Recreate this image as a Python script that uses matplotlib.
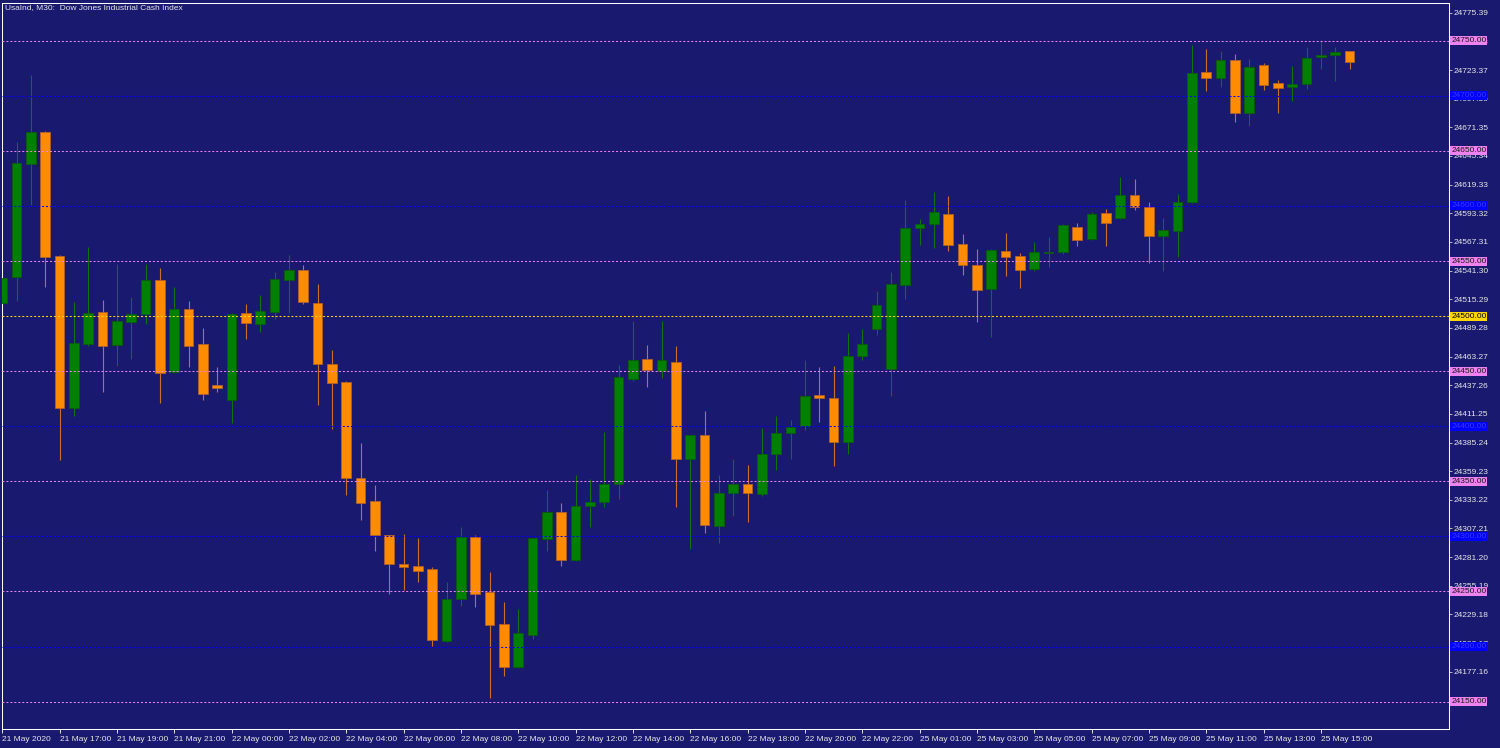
import matplotlib.pyplot as plt
import matplotlib.transforms as mtransforms
import numpy as np

# chart data (M30 bars)
title = "UsaInd, M30:  Dow Jones Industrial Cash Index"

opens = [24512.1, 24535.2, 24638.5, 24667.3, 24554.5, 24417.0, 24474.8, 24504.0, 24473.6, 24494.2,
         24501.8, 24532.7, 24448.8, 24506.4, 24474.5, 24437.3, 24423.6, 24502.4, 24492.7, 24503.9,
         24532.7, 24542.1, 24512.1, 24456.1, 24440.3, 24353.3, 24332.1, 24301.5, 24275.2, 24272.7,
         24270.3, 24205.5, 24243.6, 24299.7, 24249.7, 24220.3, 24181.5, 24210.6, 24297.3, 24321.8,
         24278.8, 24327.9, 24330.9, 24347.6, 24443.0, 24461.2, 24450.3, 24458.5, 24370.6, 24391.8,
         24309.7, 24339.7, 24347.6, 24338.2, 24375.2, 24394.2, 24400.3, 24428.5, 24426.0, 24385.5,
         24464.2, 24488.7, 24452.1, 24528.3, 24579.7, 24583.9, 24592.7, 24565.8, 24546.4, 24524.7,
         24559.1, 24554.6, 24543.1, 24557.3, 24558.5, 24581.2, 24570.0, 24593.6, 24588.8, 24610.0,
         24599.4, 24572.4, 24577.6, 24603.6, 24721.9, 24716.4, 24732.5, 24684.1, 24727.9, 24711.3,
         24707.7, 24711.0, 24735.5, 24737.0, 24740.6]
highs = [24545.0, 24657.9, 24719.1, 24668.2, 24555.0, 24512.4, 24562.4, 24514.5, 24547.3, 24517.0,
         24547.3, 24543.6, 24526.4, 24514.0, 24489.1, 24453.6, 24502.5, 24510.6, 24519.1, 24539.7,
         24555.5, 24546.4, 24529.1, 24469.1, 24441.2, 24385.2, 24346.7, 24301.5, 24301.8, 24298.8,
         24271.8, 24258.5, 24308.5, 24300.9, 24267.3, 24240.3, 24234.5, 24299.0, 24342.1, 24330.0,
         24355.8, 24351.8, 24395.2, 24455.5, 24495.8, 24473.9, 24495.2, 24472.4, 24392.0, 24413.9,
         24355.8, 24370.0, 24364.8, 24398.5, 24409.1, 24405.5, 24460.2, 24453.9, 24454.8, 24484.4,
         24488.4, 24522.8, 24540.4, 24605.4, 24588.5, 24612.7, 24609.0, 24574.6, 24560.9, 24560.9,
         24575.5, 24557.6, 24567.3, 24571.5, 24583.6, 24584.8, 24594.2, 24597.2, 24626.6, 24624.5,
         24603.3, 24589.4, 24610.9, 24746.1, 24742.4, 24740.6, 24737.6, 24733.4, 24729.4, 24714.3,
         24727.0, 24744.6, 24750.6, 24744.0, 24740.6]
lows = [24505.0, 24513.9, 24600.9, 24526.1, 24369.1, 24409.1, 24473.0, 24431.5, 24454.5, 24461.0,
        24492.7, 24421.2, 24448.0, 24454.0, 24424.2, 24430.9, 24403.0, 24479.4, 24485.5, 24497.6,
        24502.4, 24510.6, 24419.4, 24397.6, 24337.9, 24315.2, 24286.7, 24247.9, 24250.9, 24258.2,
        24200.3, 24204.0, 24236.7, 24235.8, 24153.3, 24173.6, 24180.9, 24207.0, 24287.0, 24273.3,
        24277.6, 24308.8, 24327.0, 24334.2, 24441.5, 24435.2, 24443.9, 24327.0, 24288.8, 24303.3,
        24294.2, 24318.8, 24313.3, 24337.0, 24360.3, 24370.0, 24396.7, 24404.3, 24364.3, 24374.9,
        24460.2, 24482.9, 24427.0, 24515.9, 24564.3, 24561.9, 24559.1, 24537.4, 24495.0, 24480.8,
        24536.8, 24525.3, 24540.7, 24544.9, 24556.4, 24564.0, 24569.4, 24564.0, 24588.5, 24596.3,
        24547.9, 24541.0, 24554.0, 24603.0, 24704.3, 24708.3, 24676.5, 24672.6, 24705.5, 24684.7,
        24695.3, 24705.8, 24724.0, 24713.4, 24724.6]
closes = [24534.2, 24638.8, 24666.7, 24553.9, 24417.0, 24475.5, 24502.4, 24473.0, 24495.5, 24501.5,
          24532.7, 24447.9, 24506.4, 24472.4, 24429.4, 24434.8, 24501.8, 24493.3, 24504.5, 24533.3,
          24542.1, 24513.0, 24456.1, 24439.7, 24352.7, 24330.6, 24301.2, 24274.5, 24272.1, 24268.5,
          24206.1, 24243.6, 24299.4, 24247.6, 24220.0, 24181.5, 24212.7, 24298.2, 24321.8, 24278.8,
          24327.6, 24331.5, 24347.6, 24444.8, 24460.3, 24451.2, 24460.3, 24370.0, 24391.8, 24310.6,
          24339.4, 24347.6, 24339.1, 24374.8, 24393.9, 24399.4, 24427.6, 24425.4, 24385.5, 24464.2,
          24474.7, 24509.8, 24529.2, 24580.3, 24583.6, 24594.2, 24564.9, 24546.4, 24523.7, 24560.0,
          24554.0, 24541.6, 24558.2, 24558.2, 24582.7, 24569.1, 24592.7, 24584.8, 24610.0, 24599.4,
          24573.0, 24578.2, 24603.3, 24721.0, 24716.4, 24732.5, 24684.7, 24726.1, 24710.1, 24707.4,
          24710.7, 24734.0, 24737.3, 24739.4, 24731.0]

# one time label every 4 bars
time_labels = ["21 May 2020", "21 May 17:00", "21 May 19:00", "21 May 21:00", "22 May 00:00",
               "22 May 02:00", "22 May 04:00", "22 May 06:00", "22 May 08:00", "22 May 10:00",
               "22 May 12:00", "22 May 14:00", "22 May 16:00", "22 May 18:00", "22 May 20:00",
               "22 May 22:00", "25 May 01:00", "25 May 03:00", "25 May 05:00", "25 May 07:00",
               "25 May 09:00", "25 May 11:00", "25 May 13:00", "25 May 15:00"]

price_ticks = [24177.16, 24203.17, 24229.18, 24255.19, 24281.20, 24307.21, 24333.22, 24359.23,
               24385.24, 24411.25, 24437.26, 24463.27, 24489.28, 24515.29, 24541.30, 24567.31,
               24593.32, 24619.33, 24645.34, 24671.35, 24697.36, 24723.37, 24749.38, 24775.39]

# horizontal levels
levels = [24750, 24700, 24650, 24600, 24550, 24500, 24450, 24400, 24350, 24300, 24250, 24200, 24150]
level_kind = ["pink", "blue", "pink", "blue", "pink", "gold", "pink", "blue", "pink", "blue",
              "pink", "blue", "pink"]

######################################################################

bg = '#191970'
line_col = {'pink': '#ee82ee', 'blue': '#0000ff', 'gold': '#ffd700'}
text_col = {'pink': '#1a1a1a', 'blue': '#3a3aff', 'gold': '#000000'}

plt.rcParams['font.family'] = ['Liberation Sans', 'DejaVu Sans']

o = np.asarray(opens)
h = np.asarray(highs)
l = np.asarray(lows)
c = np.asarray(closes)
x = np.arange(len(o))
up = c >= o

fig = plt.figure(figsize=(15, 7.48), dpi=100, facecolor=bg)
ax = fig.add_axes([1.7/1500, 18.7/748, 1446.8/1500, 726.3/748])
ax.set_facecolor(bg)

# wicks
ax.vlines(x[up], l[up], h[up], color='#0c740c', lw=0.8, zorder=2)
ax.vlines(x[~up], l[~up], h[~up], color='#c8702a', lw=0.8, zorder=2)

# bodies
body_lo = np.minimum(o, c)
body_h = np.maximum(np.abs(c - o), 1.0)
ax.bar(x[up], body_h[up], bottom=body_lo[up], width=0.68, color='#008000',
       edgecolor='#0a5c0a', lw=0.6, zorder=3)
ax.bar(x[~up], body_h[~up], bottom=body_lo[~up], width=0.68, color='#ff8c00',
       edgecolor='#b0602a', lw=0.6, zorder=3)

# levels with price boxes
box_tr = mtransforms.blended_transform_factory(ax.transAxes, ax.transData)
for lev, kind in zip(levels, level_kind):
    ax.axhline(lev, color=line_col[kind], lw=0.75, dashes=(1.9, 1.9), zorder=4)
    ax.text(1.0018, lev, "%.2f" % lev, transform=box_tr, fontsize=6, color=text_col[kind],
            ha='left', va='center', clip_on=False, zorder=6,
            bbox=dict(boxstyle='square,pad=0.12', fc=line_col[kind], ec='none'))

ax.set_xlim(-0.04, 100.9)
ax.set_ylim(24124.9, 24784.2)

ax.set_yticks(price_ticks)
ax.set_yticklabels(["%.2f" % p for p in price_ticks])
ax.yaxis.tick_right()
ax.tick_params(axis='y', direction='out', length=2.5, width=0.7, pad=1,
               colors='#b8b8b8', labelcolor='#e6e6e6', labelsize=6)

ax.set_xticks(x[::4])
ax.set_xticklabels(time_labels, ha='left')
ax.tick_params(axis='x', direction='out', length=3, width=0.7, pad=1.5,
               colors='#e6e6e6', labelsize=6)

for s in ax.spines.values():
    s.set_color('white')
    s.set_linewidth(0.75)

fig.text(5/1500, 1 - 8/748, title, fontsize=6, color='#e6e6e6', ha='left', va='center')

fig.savefig('out.png', dpi=100, facecolor=bg)
